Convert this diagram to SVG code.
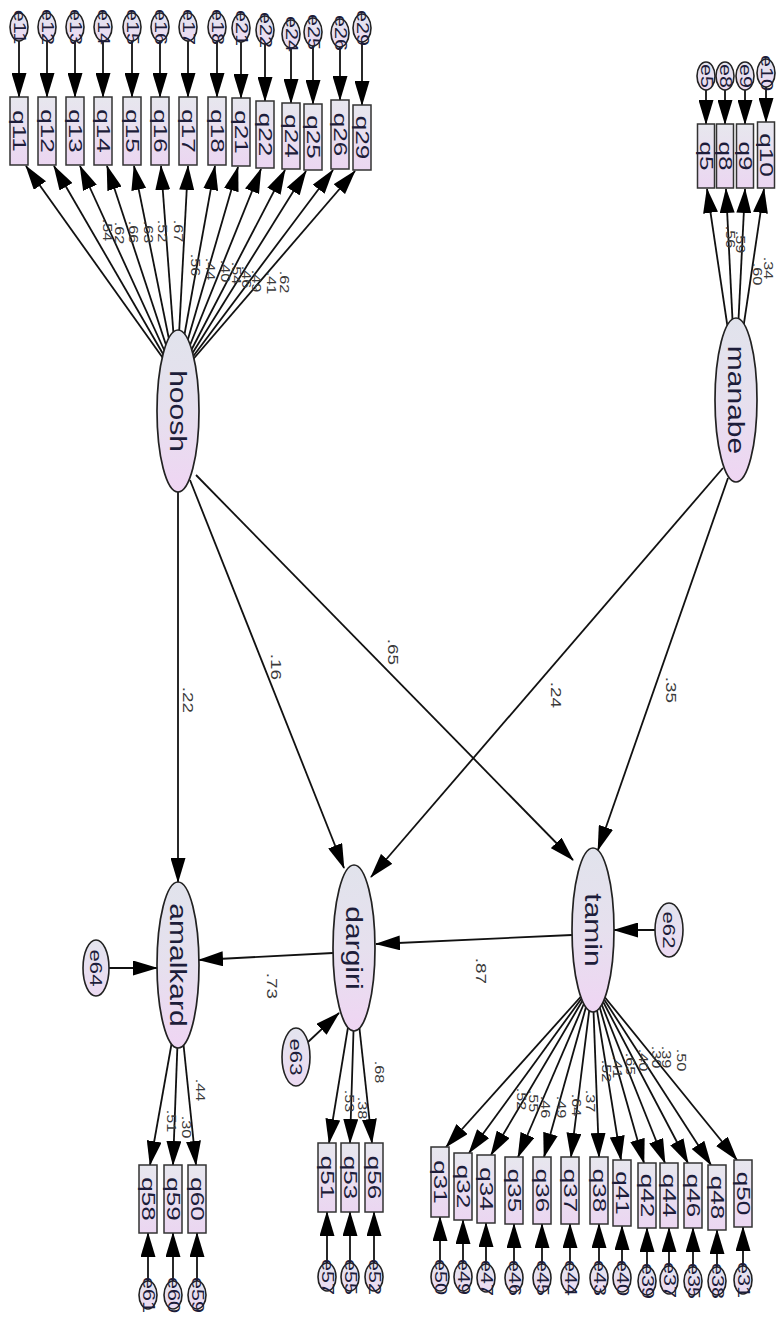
<svg xmlns="http://www.w3.org/2000/svg" width="778" height="1322" viewBox="0 0 778 1322">
<defs>
<linearGradient id="gl" x1="0" y1="0" x2="0" y2="1"><stop offset="0" stop-color="#e1e3ec"/><stop offset="0.5" stop-color="#e6e0ee"/><stop offset="1" stop-color="#efd5f3"/></linearGradient>
<linearGradient id="gb" x1="0" y1="0" x2="0" y2="1"><stop offset="0" stop-color="#e7e7ee"/><stop offset="1" stop-color="#ebd6f1"/></linearGradient>
<linearGradient id="ge" x1="0" y1="0" x2="0" y2="1"><stop offset="0" stop-color="#e3e4ee"/><stop offset="1" stop-color="#ecdaf2"/></linearGradient>
<marker id="ah" markerUnits="userSpaceOnUse" markerWidth="25" markerHeight="15" refX="24" refY="7.5" orient="auto" viewBox="0 0 25 15"><path d="M0,0 L25,7.5 L0,15 z" fill="#000"/></marker>
</defs>
<style>
.ln{stroke:#111;stroke-width:1.8;fill:none;marker-end:url(#ah)}
.box{fill:url(#gb);stroke:#333;stroke-width:1.5}
.lat{fill:url(#gl);stroke:#222;stroke-width:1.7}
.err{fill:url(#ge);stroke:#222;stroke-width:1.6}
text{font-family:"Liberation Sans",Arial,sans-serif;fill:#1d1d3a;text-anchor:middle;dominant-baseline:central}
.tl{font-size:24px}
.tb{font-size:18px}
.te{font-size:16px}
.tE{font-size:17px}
.tld{font-size:12.5px;fill:#3a3a3a}
.tst{font-size:14px;fill:#3a3a3a}
</style>
<rect width="778" height="1322" fill="#fff"/>

<g id="connectors">
<line class="ln" x1="170" y1="368" x2="26" y2="166"/>
<line class="ln" x1="171.2" y1="368" x2="54" y2="166"/>
<line class="ln" x1="172.4" y1="368" x2="80" y2="166"/>
<line class="ln" x1="173.6" y1="368" x2="107" y2="166"/>
<line class="ln" x1="174.8" y1="368" x2="134" y2="166"/>
<line class="ln" x1="176" y1="368" x2="161" y2="166"/>
<line class="ln" x1="177.2" y1="368" x2="188" y2="166"/>
<line class="ln" x1="178.4" y1="368" x2="215" y2="166"/>
<line class="ln" x1="179.6" y1="368" x2="238" y2="167"/>
<line class="ln" x1="180.8" y1="368" x2="261" y2="169"/>
<line class="ln" x1="182" y1="368" x2="285" y2="170"/>
<line class="ln" x1="183.2" y1="368" x2="306" y2="171"/>
<line class="ln" x1="184.4" y1="368" x2="333" y2="170"/>
<line class="ln" x1="185.6" y1="368" x2="355" y2="171"/>
<line class="ln" x1="19" y1="40" x2="19" y2="97"/>
<line class="ln" x1="47" y1="40" x2="47" y2="97"/>
<line class="ln" x1="75" y1="40" x2="75" y2="97"/>
<line class="ln" x1="103" y1="40" x2="103" y2="97"/>
<line class="ln" x1="132" y1="40" x2="132" y2="97"/>
<line class="ln" x1="160" y1="40" x2="160" y2="97"/>
<line class="ln" x1="188" y1="40" x2="188" y2="97"/>
<line class="ln" x1="217" y1="40" x2="217" y2="97"/>
<line class="ln" x1="241" y1="41" x2="241" y2="98"/>
<line class="ln" x1="265" y1="43" x2="265" y2="101"/>
<line class="ln" x1="291" y1="47" x2="291" y2="103"/>
<line class="ln" x1="313" y1="45" x2="313" y2="104"/>
<line class="ln" x1="340" y1="46" x2="340" y2="100"/>
<line class="ln" x1="362" y1="41" x2="362" y2="105"/>
<line class="ln" x1="731" y1="350" x2="707" y2="189"/>
<line class="ln" x1="734" y1="350" x2="726" y2="189"/>
<line class="ln" x1="737" y1="350" x2="745" y2="189"/>
<line class="ln" x1="740" y1="350" x2="764" y2="189"/>
<line class="ln" x1="706" y1="90" x2="706" y2="124"/>
<line class="ln" x1="725" y1="90" x2="725" y2="124"/>
<line class="ln" x1="745" y1="90" x2="745" y2="124"/>
<line class="ln" x1="766" y1="87" x2="766" y2="122"/>
<line class="ln" x1="178" y1="490" x2="178" y2="882"/>
<line class="ln" x1="190" y1="480" x2="344" y2="868"/>
<line class="ln" x1="196" y1="475" x2="573" y2="860"/>
<line class="ln" x1="723" y1="468" x2="371" y2="877"/>
<line class="ln" x1="728" y1="478" x2="598" y2="850"/>
<line class="ln" x1="572" y1="935" x2="376" y2="944"/>
<line class="ln" x1="333" y1="953" x2="199" y2="960"/>
<line class="ln" x1="655" y1="930" x2="614" y2="930"/>
<line class="ln" x1="308" y1="1042" x2="339" y2="1013"/>
<line class="ln" x1="109" y1="968" x2="157" y2="968"/>
<line class="ln" x1="174" y1="1030" x2="150" y2="1165"/>
<line class="ln" x1="178" y1="1030" x2="173" y2="1165"/>
<line class="ln" x1="182" y1="1030" x2="196" y2="1165"/>
<line class="ln" x1="148" y1="1281" x2="148" y2="1233"/>
<line class="ln" x1="173" y1="1281" x2="173" y2="1233"/>
<line class="ln" x1="197" y1="1281" x2="197" y2="1233"/>
<line class="ln" x1="350" y1="1015" x2="329" y2="1143"/>
<line class="ln" x1="354" y1="1015" x2="350" y2="1143"/>
<line class="ln" x1="358" y1="1015" x2="372" y2="1143"/>
<line class="ln" x1="327" y1="1263" x2="327" y2="1212"/>
<line class="ln" x1="350" y1="1263" x2="350" y2="1212"/>
<line class="ln" x1="374" y1="1263" x2="374" y2="1212"/>
<line class="ln" x1="585" y1="992" x2="446" y2="1147"/>
<line class="ln" x1="586.3" y1="992" x2="469" y2="1153"/>
<line class="ln" x1="587.6" y1="992" x2="491" y2="1155"/>
<line class="ln" x1="588.9" y1="992" x2="518" y2="1157"/>
<line class="ln" x1="590.2" y1="992" x2="544" y2="1157"/>
<line class="ln" x1="591.5" y1="992" x2="571" y2="1157"/>
<line class="ln" x1="592.8" y1="992" x2="599" y2="1157"/>
<line class="ln" x1="594.1" y1="992" x2="621" y2="1160"/>
<line class="ln" x1="595.4" y1="992" x2="644" y2="1163"/>
<line class="ln" x1="596.7" y1="992" x2="665" y2="1163"/>
<line class="ln" x1="598" y1="992" x2="688" y2="1163"/>
<line class="ln" x1="599.3" y1="992" x2="711" y2="1165"/>
<line class="ln" x1="600.6" y1="992" x2="737" y2="1160"/>
<line class="ln" x1="440" y1="1263" x2="440" y2="1217"/>
<line class="ln" x1="463" y1="1263" x2="463" y2="1220"/>
<line class="ln" x1="486" y1="1264" x2="486" y2="1223"/>
<line class="ln" x1="514" y1="1264" x2="514" y2="1224"/>
<line class="ln" x1="542" y1="1264" x2="542" y2="1224"/>
<line class="ln" x1="570" y1="1264" x2="570" y2="1224"/>
<line class="ln" x1="599" y1="1264" x2="599" y2="1224"/>
<line class="ln" x1="622" y1="1264" x2="622" y2="1226"/>
<line class="ln" x1="647" y1="1267" x2="647" y2="1228"/>
<line class="ln" x1="669" y1="1266" x2="669" y2="1228"/>
<line class="ln" x1="693" y1="1267" x2="693" y2="1228"/>
<line class="ln" x1="717" y1="1267" x2="717" y2="1230"/>
<line class="ln" x1="743" y1="1266" x2="743" y2="1227"/>
</g>

<g id="labels">
<text class="tld" transform="translate(107,230) rotate(90) scale(1.3,1)">.54</text>
<text class="tld" transform="translate(119,233) rotate(90) scale(1.3,1)">.62</text>
<text class="tld" transform="translate(133,232) rotate(90) scale(1.3,1)">.66</text>
<text class="tld" transform="translate(148,232) rotate(90) scale(1.3,1)">.63</text>
<text class="tld" transform="translate(162,231) rotate(90) scale(1.3,1)">.52</text>
<text class="tld" transform="translate(178,231) rotate(90) scale(1.3,1)">.67</text>
<text class="tld" transform="translate(195,265) rotate(90) scale(1.3,1)">.56</text>
<text class="tld" transform="translate(210,269) rotate(90) scale(1.3,1)">.44</text>
<text class="tld" transform="translate(225,271) rotate(90) scale(1.3,1)">.40</text>
<text class="tld" transform="translate(236,273) rotate(90) scale(1.3,1)">.54</text>
<text class="tld" transform="translate(246,277) rotate(90) scale(1.3,1)">.46</text>
<text class="tld" transform="translate(256,281) rotate(90) scale(1.3,1)">.49</text>
<text class="tld" transform="translate(271,283) rotate(90) scale(1.3,1)">.41</text>
<text class="tld" transform="translate(284,282) rotate(90) scale(1.3,1)">.62</text>
<text class="tld" transform="translate(730,237) rotate(90) scale(1.3,1)">.56</text>
<text class="tld" transform="translate(740,242) rotate(90) scale(1.3,1)">.59</text>
<text class="tld" transform="translate(757,274) rotate(90) scale(1.3,1)">.60</text>
<text class="tld" transform="translate(768,268) rotate(90) scale(1.3,1)">.34</text>
<text class="tst" transform="translate(188,700) rotate(90) scale(1.35,1)">.22</text>
<text class="tst" transform="translate(276,667) rotate(90) scale(1.35,1)">.16</text>
<text class="tst" transform="translate(393,652) rotate(90) scale(1.35,1)">.65</text>
<text class="tst" transform="translate(556,695) rotate(90) scale(1.35,1)">.24</text>
<text class="tst" transform="translate(671,690) rotate(90) scale(1.35,1)">.35</text>
<text class="tst" transform="translate(481,971) rotate(90) scale(1.35,1)">.87</text>
<text class="tst" transform="translate(272,986) rotate(90) scale(1.35,1)">.73</text>
<text class="tld" transform="translate(200,1090) rotate(90) scale(1.3,1)">.44</text>
<text class="tld" transform="translate(171,1121) rotate(90) scale(1.3,1)">.51</text>
<text class="tld" transform="translate(186,1127) rotate(90) scale(1.3,1)">.30</text>
<text class="tld" transform="translate(379,1072) rotate(90) scale(1.3,1)">.68</text>
<text class="tld" transform="translate(349,1101) rotate(90) scale(1.3,1)">.53</text>
<text class="tld" transform="translate(362,1108) rotate(90) scale(1.3,1)">.38</text>
<text class="tld" transform="translate(521,1099) rotate(90) scale(1.3,1)">.52</text>
<text class="tld" transform="translate(533,1101) rotate(90) scale(1.3,1)">.55</text>
<text class="tld" transform="translate(545,1107) rotate(90) scale(1.3,1)">.46</text>
<text class="tld" transform="translate(561,1107) rotate(90) scale(1.3,1)">.49</text>
<text class="tld" transform="translate(576,1105) rotate(90) scale(1.3,1)">.64</text>
<text class="tld" transform="translate(590,1101) rotate(90) scale(1.3,1)">.37</text>
<text class="tld" transform="translate(606,1071) rotate(90) scale(1.3,1)">.52</text>
<text class="tld" transform="translate(617,1067) rotate(90) scale(1.3,1)">.41</text>
<text class="tld" transform="translate(630,1064) rotate(90) scale(1.3,1)">.65</text>
<text class="tld" transform="translate(643,1060) rotate(90) scale(1.3,1)">.40</text>
<text class="tld" transform="translate(656,1057) rotate(90) scale(1.3,1)">.30</text>
<text class="tld" transform="translate(666,1057) rotate(90) scale(1.3,1)">.39</text>
<text class="tld" transform="translate(681,1060) rotate(90) scale(1.3,1)">.50</text>
</g>

<g id="hoosh"><ellipse class="lat" cx="178" cy="411" rx="21" ry="81"/><text class="tl" transform="translate(178,411) rotate(90) scale(1.25,1)">hoosh</text></g>
<g id="manabe"><ellipse class="lat" cx="736" cy="400" rx="21" ry="82"/><text class="tl" transform="translate(736,400) rotate(90) scale(1.25,1)">manabe</text></g>
<g id="amalkard"><ellipse class="lat" cx="178" cy="965" rx="21" ry="83"/><text class="tl" transform="translate(178,965) rotate(90) scale(1.25,1)">amalkard</text></g>
<g id="dargiri"><ellipse class="lat" cx="354" cy="948" rx="21" ry="83"/><text class="tl" transform="translate(354,948) rotate(90) scale(1.25,1)">dargiri</text></g>
<g id="tamin"><ellipse class="lat" cx="593" cy="930" rx="21" ry="82"/><text class="tl" transform="translate(593,930) rotate(90) scale(1.25,1)">tamin</text></g>
<g id="e62"><ellipse class="err" cx="669" cy="930" rx="14" ry="27"/><text class="tE" transform="translate(669,930) rotate(90) scale(1.3,1)">e62</text></g>
<g id="e63"><ellipse class="err" cx="296" cy="1057" rx="14" ry="29"/><text class="tE" transform="translate(296,1057) rotate(90) scale(1.3,1)">e63</text></g>
<g id="e64"><ellipse class="err" cx="96" cy="968" rx="13" ry="28"/><text class="tE" transform="translate(96,968) rotate(90) scale(1.3,1)">e64</text></g>

<g id="q11"><rect class="box" x="10" y="97" width="18" height="68"/><text class="tb" transform="translate(19,131) rotate(90) scale(1.45,1)">q11</text></g>
<g id="q12"><rect class="box" x="38" y="97" width="18" height="68"/><text class="tb" transform="translate(47,131) rotate(90) scale(1.45,1)">q12</text></g>
<g id="q13"><rect class="box" x="66" y="97" width="18" height="68"/><text class="tb" transform="translate(75,131) rotate(90) scale(1.45,1)">q13</text></g>
<g id="q14"><rect class="box" x="94" y="97" width="18" height="68"/><text class="tb" transform="translate(103,131) rotate(90) scale(1.45,1)">q14</text></g>
<g id="q15"><rect class="box" x="123" y="97" width="18" height="68"/><text class="tb" transform="translate(132,131) rotate(90) scale(1.45,1)">q15</text></g>
<g id="q16"><rect class="box" x="151" y="97" width="18" height="68"/><text class="tb" transform="translate(160,131) rotate(90) scale(1.45,1)">q16</text></g>
<g id="q17"><rect class="box" x="179" y="97" width="18" height="68"/><text class="tb" transform="translate(188,131) rotate(90) scale(1.45,1)">q17</text></g>
<g id="q18"><rect class="box" x="208" y="97" width="18" height="68"/><text class="tb" transform="translate(217,131) rotate(90) scale(1.45,1)">q18</text></g>
<g id="q21"><rect class="box" x="232" y="98" width="18" height="68"/><text class="tb" transform="translate(241,132) rotate(90) scale(1.45,1)">q21</text></g>
<g id="q22"><rect class="box" x="256" y="101" width="18" height="67"/><text class="tb" transform="translate(265,134.5) rotate(90) scale(1.45,1)">q22</text></g>
<g id="q24"><rect class="box" x="282" y="103" width="18" height="66"/><text class="tb" transform="translate(291,136) rotate(90) scale(1.45,1)">q24</text></g>
<g id="q25"><rect class="box" x="304" y="104" width="18" height="66"/><text class="tb" transform="translate(313,137) rotate(90) scale(1.45,1)">q25</text></g>
<g id="q26"><rect class="box" x="331" y="100" width="18" height="69"/><text class="tb" transform="translate(340,134.5) rotate(90) scale(1.45,1)">q26</text></g>
<g id="q29"><rect class="box" x="353" y="105" width="18" height="65"/><text class="tb" transform="translate(362,137.5) rotate(90) scale(1.45,1)">q29</text></g>

<g id="e11"><ellipse class="err" cx="19" cy="27" rx="9" ry="14"/><text class="te" transform="translate(19,27) rotate(90) scale(1.35,1)">e11</text></g>
<g id="e12"><ellipse class="err" cx="47" cy="27" rx="9" ry="14"/><text class="te" transform="translate(47,27) rotate(90) scale(1.35,1)">e12</text></g>
<g id="e13"><ellipse class="err" cx="75" cy="27" rx="9" ry="14"/><text class="te" transform="translate(75,27) rotate(90) scale(1.35,1)">e13</text></g>
<g id="e14"><ellipse class="err" cx="103" cy="27" rx="9" ry="14"/><text class="te" transform="translate(103,27) rotate(90) scale(1.35,1)">e14</text></g>
<g id="e15"><ellipse class="err" cx="132" cy="27" rx="9" ry="14"/><text class="te" transform="translate(132,27) rotate(90) scale(1.35,1)">e15</text></g>
<g id="e16"><ellipse class="err" cx="160" cy="27" rx="9" ry="14"/><text class="te" transform="translate(160,27) rotate(90) scale(1.35,1)">e16</text></g>
<g id="e17"><ellipse class="err" cx="188" cy="27" rx="9" ry="14"/><text class="te" transform="translate(188,27) rotate(90) scale(1.35,1)">e17</text></g>
<g id="e18"><ellipse class="err" cx="217" cy="27" rx="9" ry="14"/><text class="te" transform="translate(217,27) rotate(90) scale(1.35,1)">e18</text></g>
<g id="e21"><ellipse class="err" cx="241" cy="28" rx="9" ry="14"/><text class="te" transform="translate(241,28) rotate(90) scale(1.35,1)">e21</text></g>
<g id="e22"><ellipse class="err" cx="265" cy="30" rx="9" ry="14"/><text class="te" transform="translate(265,30) rotate(90) scale(1.35,1)">e22</text></g>
<g id="e24"><ellipse class="err" cx="291" cy="34" rx="9" ry="14"/><text class="te" transform="translate(291,34) rotate(90) scale(1.35,1)">e24</text></g>
<g id="e25"><ellipse class="err" cx="313" cy="32" rx="9" ry="14"/><text class="te" transform="translate(313,32) rotate(90) scale(1.35,1)">e25</text></g>
<g id="e26"><ellipse class="err" cx="340" cy="33" rx="9" ry="14"/><text class="te" transform="translate(340,33) rotate(90) scale(1.35,1)">e26</text></g>
<g id="e29"><ellipse class="err" cx="362" cy="28" rx="9" ry="14"/><text class="te" transform="translate(362,28) rotate(90) scale(1.35,1)">e29</text></g>

<g id="q5"><rect class="box" x="697.5" y="124" width="17" height="64"/><text class="tb" transform="translate(706,156) rotate(90) scale(1.45,1)">q5</text></g>
<g id="q8"><rect class="box" x="716.5" y="124" width="17" height="64"/><text class="tb" transform="translate(725,156) rotate(90) scale(1.45,1)">q8</text></g>
<g id="q9"><rect class="box" x="736.5" y="124" width="17" height="64"/><text class="tb" transform="translate(745,156) rotate(90) scale(1.45,1)">q9</text></g>
<g id="q10"><rect class="box" x="757.5" y="122" width="17" height="66"/><text class="tb" transform="translate(766,155) rotate(90) scale(1.45,1)">q10</text></g>
<g id="e5"><ellipse class="err" cx="706" cy="76" rx="9" ry="14"/><text class="te" transform="translate(706,76) rotate(90) scale(1.35,1)">e5</text></g>
<g id="e8"><ellipse class="err" cx="725" cy="76" rx="9" ry="14"/><text class="te" transform="translate(725,76) rotate(90) scale(1.35,1)">e8</text></g>
<g id="e9"><ellipse class="err" cx="745" cy="76" rx="9" ry="14"/><text class="te" transform="translate(745,76) rotate(90) scale(1.35,1)">e9</text></g>
<g id="e10"><ellipse class="err" cx="766" cy="73" rx="9" ry="14"/><text class="te" transform="translate(766,73) rotate(90) scale(1.35,1)">e10</text></g>

<g id="q58"><rect class="box" x="139" y="1165" width="18" height="68"/><text class="tb" transform="translate(148,1199) rotate(90) scale(1.45,1)">q58</text></g>
<g id="q59"><rect class="box" x="164" y="1165" width="18" height="68"/><text class="tb" transform="translate(173,1199) rotate(90) scale(1.45,1)">q59</text></g>
<g id="q60"><rect class="box" x="188" y="1165" width="18" height="68"/><text class="tb" transform="translate(197,1199) rotate(90) scale(1.45,1)">q60</text></g>
<g id="e61"><ellipse class="err" cx="148" cy="1295" rx="9" ry="14"/><text class="te" transform="translate(148,1295) rotate(90) scale(1.35,1)">e61</text></g>
<g id="e60"><ellipse class="err" cx="173" cy="1295" rx="9" ry="14"/><text class="te" transform="translate(173,1295) rotate(90) scale(1.35,1)">e60</text></g>
<g id="e59"><ellipse class="err" cx="197" cy="1295" rx="9" ry="14"/><text class="te" transform="translate(197,1295) rotate(90) scale(1.35,1)">e59</text></g>

<g id="q51"><rect class="box" x="318" y="1143" width="18" height="69"/><text class="tb" transform="translate(327,1177.5) rotate(90) scale(1.45,1)">q51</text></g>
<g id="q53"><rect class="box" x="341" y="1143" width="18" height="69"/><text class="tb" transform="translate(350,1177.5) rotate(90) scale(1.45,1)">q53</text></g>
<g id="q56"><rect class="box" x="365" y="1143" width="18" height="69"/><text class="tb" transform="translate(374,1177.5) rotate(90) scale(1.45,1)">q56</text></g>
<g id="e57"><ellipse class="err" cx="327" cy="1277" rx="9" ry="14"/><text class="te" transform="translate(327,1277) rotate(90) scale(1.35,1)">e57</text></g>
<g id="e55"><ellipse class="err" cx="350" cy="1277" rx="9" ry="14"/><text class="te" transform="translate(350,1277) rotate(90) scale(1.35,1)">e55</text></g>
<g id="e52"><ellipse class="err" cx="374" cy="1277" rx="9" ry="14"/><text class="te" transform="translate(374,1277) rotate(90) scale(1.35,1)">e52</text></g>

<g id="q31"><rect class="box" x="431" y="1147" width="18" height="70"/><text class="tb" transform="translate(440,1182) rotate(90) scale(1.45,1)">q31</text></g>
<g id="q32"><rect class="box" x="454" y="1153" width="18" height="67"/><text class="tb" transform="translate(463,1186.5) rotate(90) scale(1.45,1)">q32</text></g>
<g id="q34"><rect class="box" x="477" y="1155" width="18" height="68"/><text class="tb" transform="translate(486,1189) rotate(90) scale(1.45,1)">q34</text></g>
<g id="q35"><rect class="box" x="505" y="1157" width="18" height="67"/><text class="tb" transform="translate(514,1190.5) rotate(90) scale(1.45,1)">q35</text></g>
<g id="q36"><rect class="box" x="533" y="1157" width="18" height="67"/><text class="tb" transform="translate(542,1190.5) rotate(90) scale(1.45,1)">q36</text></g>
<g id="q37"><rect class="box" x="561" y="1157" width="18" height="67"/><text class="tb" transform="translate(570,1190.5) rotate(90) scale(1.45,1)">q37</text></g>
<g id="q38"><rect class="box" x="590" y="1157" width="18" height="67"/><text class="tb" transform="translate(599,1190.5) rotate(90) scale(1.45,1)">q38</text></g>
<g id="q41"><rect class="box" x="613" y="1160" width="18" height="66"/><text class="tb" transform="translate(622,1193) rotate(90) scale(1.45,1)">q41</text></g>
<g id="q42"><rect class="box" x="638" y="1163" width="18" height="65"/><text class="tb" transform="translate(647,1195.5) rotate(90) scale(1.45,1)">q42</text></g>
<g id="q44"><rect class="box" x="660" y="1163" width="18" height="65"/><text class="tb" transform="translate(669,1195.5) rotate(90) scale(1.45,1)">q44</text></g>
<g id="q46"><rect class="box" x="684" y="1163" width="18" height="65"/><text class="tb" transform="translate(693,1195.5) rotate(90) scale(1.45,1)">q46</text></g>
<g id="q48"><rect class="box" x="708" y="1165" width="18" height="65"/><text class="tb" transform="translate(717,1197.5) rotate(90) scale(1.45,1)">q48</text></g>
<g id="q50"><rect class="box" x="734" y="1160" width="18" height="67"/><text class="tb" transform="translate(743,1193.5) rotate(90) scale(1.45,1)">q50</text></g>

<g id="e50"><ellipse class="err" cx="440" cy="1277" rx="9" ry="14"/><text class="te" transform="translate(440,1277) rotate(90) scale(1.35,1)">e50</text></g>
<g id="e49"><ellipse class="err" cx="463" cy="1277" rx="9" ry="14"/><text class="te" transform="translate(463,1277) rotate(90) scale(1.35,1)">e49</text></g>
<g id="e47"><ellipse class="err" cx="486" cy="1278" rx="9" ry="14"/><text class="te" transform="translate(486,1278) rotate(90) scale(1.35,1)">e47</text></g>
<g id="e46"><ellipse class="err" cx="514" cy="1278" rx="9" ry="14"/><text class="te" transform="translate(514,1278) rotate(90) scale(1.35,1)">e46</text></g>
<g id="e45"><ellipse class="err" cx="542" cy="1278" rx="9" ry="14"/><text class="te" transform="translate(542,1278) rotate(90) scale(1.35,1)">e45</text></g>
<g id="e44"><ellipse class="err" cx="570" cy="1278" rx="9" ry="14"/><text class="te" transform="translate(570,1278) rotate(90) scale(1.35,1)">e44</text></g>
<g id="e43"><ellipse class="err" cx="599" cy="1278" rx="9" ry="14"/><text class="te" transform="translate(599,1278) rotate(90) scale(1.35,1)">e43</text></g>
<g id="e40"><ellipse class="err" cx="622" cy="1278" rx="9" ry="14"/><text class="te" transform="translate(622,1278) rotate(90) scale(1.35,1)">e40</text></g>
<g id="e39"><ellipse class="err" cx="647" cy="1281" rx="9" ry="14"/><text class="te" transform="translate(647,1281) rotate(90) scale(1.35,1)">e39</text></g>
<g id="e37"><ellipse class="err" cx="669" cy="1280" rx="9" ry="14"/><text class="te" transform="translate(669,1280) rotate(90) scale(1.35,1)">e37</text></g>
<g id="e35"><ellipse class="err" cx="693" cy="1281" rx="9" ry="14"/><text class="te" transform="translate(693,1281) rotate(90) scale(1.35,1)">e35</text></g>
<g id="e38"><ellipse class="err" cx="717" cy="1281" rx="9" ry="14"/><text class="te" transform="translate(717,1281) rotate(90) scale(1.35,1)">e38</text></g>
<g id="e31"><ellipse class="err" cx="743" cy="1280" rx="9" ry="14"/><text class="te" transform="translate(743,1280) rotate(90) scale(1.35,1)">e31</text></g>
</svg>
